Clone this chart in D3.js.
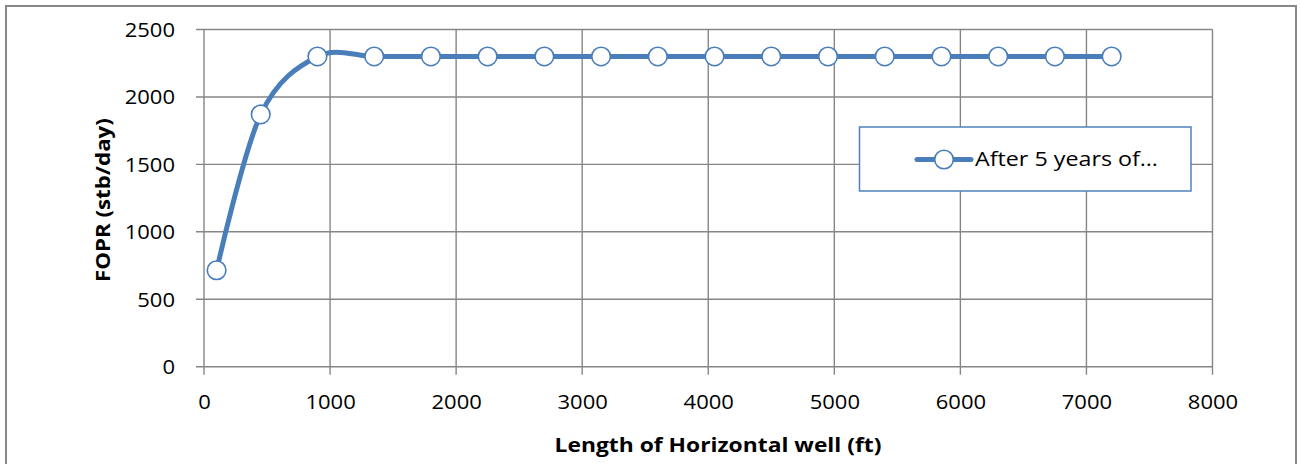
<!DOCTYPE html>
<html>
<head>
<meta charset="utf-8">
<script src="https://cdn.jsdelivr.net/npm/d3@7"></script>
<style>
  html, body { margin: 0; padding: 0; background: #fff; }
  svg { display: block; }
  text { font-family: "Open Sans", "DejaVu Sans", sans-serif; fill: #000; }
</style>
</head>
<body>
<svg id="chart" width="1301" height="464"></svg>
<script>
// ---- data ----
const wellLength = [100, 450, 900, 1350, 1800, 2250, 2700, 3150, 3600, 4050, 4500, 4950, 5400, 5850, 6300, 6750, 7200];
const fopr = [715, 1870, 2300, 2300, 2300, 2300, 2300, 2300, 2300, 2300, 2300, 2300, 2300, 2300, 2300, 2300, 2300];
const xTicks = [0, 1000, 2000, 3000, 4000, 5000, 6000, 7000, 8000];
const yTicks = [0, 500, 1000, 1500, 2000, 2500];
const seriesName = "After 5 years of\u2026";
const xTitle = "Length of Horizontal well (ft)";
const yTitle = "FOPR (stb/day)";

// ---- layout ----
const svg = d3.select("#chart");
const plot = { left: 204, right: 1212.5, top: 29.5, bottom: 366.7 };
const blue = "#4a7ebb";
const grid = "#868686";
const FONT = "Open Sans, DejaVu Sans, sans-serif";
const SX = 1.1; // horizontal stretch of the source rendering

function fitWidth(sel, target, ax, ay) {
  const w = sel.node().getComputedTextLength();
  const k = target / w;
  sel.attr("transform", `translate(${ax},${ay}) scale(${k},1) translate(${-ax},${-ay})`);
}

// outer border
svg.append("path")
  .attr("d", "M6,470 V6 H1296 V470")
  .attr("fill", "none").attr("stroke", "#888").attr("stroke-width", 2);

const x = d3.scaleLinear().domain([0, 8000]).range([plot.left, plot.right]);
const y = d3.scaleLinear().domain([0, 2500]).range([plot.bottom, plot.top]);

// gridlines
const g = svg.append("g");
g.selectAll("line.h").data(yTicks).join("line")
  .attr("x1", plot.left - 8).attr("x2", plot.right)
  .attr("y1", d => y(d)).attr("y2", d => y(d))
  .attr("stroke", grid).attr("stroke-width", 1.4);
g.selectAll("line.v").data(xTicks).join("line")
  .attr("y1", plot.top).attr("y2", plot.bottom + 8)
  .attr("x1", d => x(d)).attr("x2", d => x(d))
  .attr("stroke", grid).attr("stroke-width", 1.4);

// tick labels
const xAxis = d3.axisBottom(x).tickValues(xTicks).tickSize(0).tickPadding(0).tickFormat(d3.format("d"));
const xa = svg.append("g").attr("transform", `translate(0,${plot.bottom})`).call(xAxis);
xa.select(".domain").remove();
xa.attr("font-family", FONT).attr("font-size", 20);
xa.selectAll("text").attr("fill", "#000").attr("dy", null).attr("y", 42)
  .attr("transform", `scale(${SX},1)`);

const yAxis = d3.axisLeft(y).tickValues(yTicks).tickSize(0).tickPadding(0).tickFormat(d3.format("d"));
const ya = svg.append("g").attr("transform", `translate(${plot.left},0)`).call(yAxis);
ya.select(".domain").remove();
ya.attr("font-family", FONT).attr("font-size", 20);
ya.selectAll("text").attr("fill", "#000").attr("x", 0).attr("dy", "0.35em")
  .attr("transform", `translate(-29,0) scale(${SX},1)`);

// axis titles
const xt = svg.append("text").attr("x", 718).attr("y", 452).attr("text-anchor", "middle")
  .attr("font-size", 19).attr("font-weight", "bold").text(xTitle);
fitWidth(xt, 327, 718, 452);
const ycx = 110, ycy = (plot.top + plot.bottom) / 2 + 2;
const yt = svg.append("text").attr("x", 0).attr("y", 0)
  .attr("text-anchor", "middle").attr("font-size", 19).attr("font-weight", "bold").text(yTitle);
{
  const w = yt.node().getComputedTextLength();
  yt.attr("transform", `translate(${ycx},${ycy}) rotate(-90) scale(${164 / w},1)`);
}

// series line
const pts = wellLength.map((d, i) => [d, fopr[i]]);
const line = d3.line().x(d => x(d[0])).y(d => y(d[1])).curve(d3.curveCatmullRom.alpha(0));
svg.append("path").datum(pts).attr("d", line)
  .attr("fill", "none").attr("stroke", blue).attr("stroke-width", 5).attr("stroke-linejoin", "round");

svg.selectAll("circle.pt").data(pts).join("circle")
  .attr("cx", d => x(d[0])).attr("cy", d => y(d[1])).attr("r", 9.3)
  .attr("fill", "#fff").attr("stroke", blue).attr("stroke-width", 1.6);

// legend
const lg = svg.append("g");
lg.append("rect").attr("x", 859.5).attr("y", 127).attr("width", 331.5).attr("height", 64)
  .attr("fill", "#fff").attr("stroke", "#4f81bd").attr("stroke-width", 1.5);
lg.append("line").attr("x1", 917).attr("x2", 971).attr("y1", 159.5).attr("y2", 159.5)
  .attr("stroke", blue).attr("stroke-width", 5).attr("stroke-linecap", "round");
lg.append("circle").attr("cx", 944).attr("cy", 159.5).attr("r", 9.3)
  .attr("fill", "#fff").attr("stroke", blue).attr("stroke-width", 1.6);
const lt = lg.append("text").attr("x", 975).attr("y", 159.5).attr("dy", "0.35em")
  .attr("font-size", 20).text(seriesName);
fitWidth(lt, 1158 - 975, 975, 159.5);
</script>
</body>
</html>
